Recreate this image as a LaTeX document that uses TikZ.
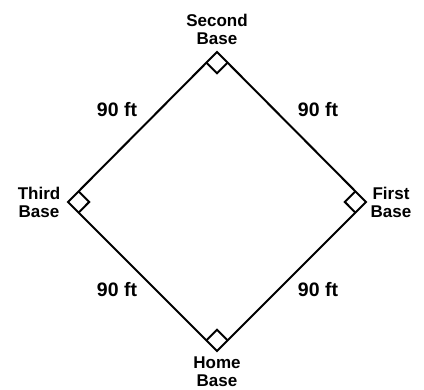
\documentclass[tikz,border=0pt]{standalone}
\usepackage{fontspec}
\setmainfont{Liberation Sans}
\usetikzlibrary{calc}
\begin{document}
\begin{tikzpicture}[x=1pt,y=-1pt,
  base/.style={line width=2pt,line join=miter},
  lbl/.style={font=\fontsize{17}{18}\selectfont\bfseries,align=center,inner sep=0pt},
  dist/.style={font=\fontsize{19.5}{20}\selectfont\bfseries,inner sep=0pt}]
\useasboundingbox (0,0) rectangle (424,390);
\coordinate (T) at (217,52);
\coordinate (R) at (366,202);
\coordinate (B) at (217,351);
\coordinate (L) at (68,202);
\draw[base] (T) -- (R) -- (B) -- (L) -- cycle;
\foreach \v/\a/\b in {T/L/R,R/T/B,B/R/L,L/B/T}{
  \draw[base] ($(\v)!15pt!(\a)$) -- ($($(\v)!15pt!(\a)$)+($(\v)!15pt!(\b)$)-(\v)$) -- ($(\v)!15pt!(\b)$);
}
\node[lbl] (second) at (217,29) {Second\\Base};
\node[lbl] (third) at (39,202) {Third\\Base};
\node[lbl] (first) at (391,202) {First\\Base};
\node[lbl] (home) at (217,372) {Home\\Base};
\node[dist] (d1) at (117,110) {90 ft};
\node[dist] (d2) at (318,110) {90 ft};
\node[dist] (d3) at (117,290) {90 ft};
\node[dist] (d4) at (318,290) {90 ft};
\end{tikzpicture}
\end{document}
